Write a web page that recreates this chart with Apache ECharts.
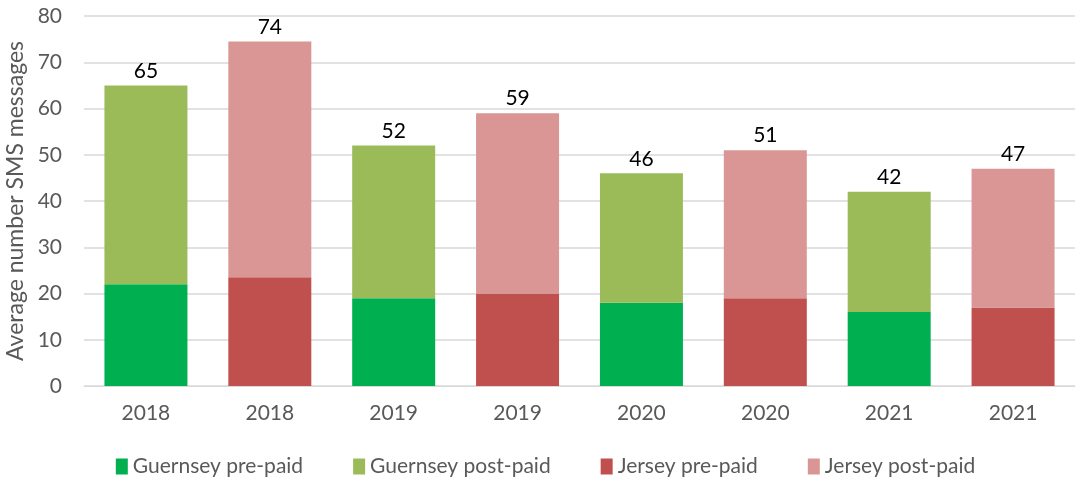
<!DOCTYPE html>
<html>
<head>
<meta charset="utf-8" />
<script src="https://cdn.jsdelivr.net/npm/echarts@6/dist/echarts.min.js"></script>
<style>
  html, body { margin: 0; padding: 0; background: #fff; }
  #main { width: 1091px; height: 482px; }
</style>
</head>
<body>
<div id="main"></div>
<script type="text/javascript">
// 数据
var years = ['2018', '2018', '2019', '2019', '2020', '2020', '2021', '2021'];
var guernseyPre  = [22, '-', 19, '-', 18, '-', 16, '-'];
var guernseyPost = [43, '-', 33, '-', 28, '-', 26, '-'];
var jerseyPre    = ['-', 23.5, '-', 20, '-', 19, '-', 17];
var jerseyPost   = ['-', 51, '-', 39, '-', 32, '-', 30];
var totals       = [65, 74, 52, 59, 46, 51, 42, 47];
var yTicks = { min: 0, max: 80, interval: 10 };

var font = 'Lato, "Open Sans", sans-serif';

function totalLabel(p) {
    return totals[p.dataIndex];
}

var chart = echarts.init(document.getElementById('main'));

var option = {
    animation: false,
    textStyle: { fontFamily: font },
    grid: { left: 84, right: 16, top: 16, bottom: 96, outerBoundsMode: 'none' },
    legend: {
        bottom: 0,
        left: 'center',
        itemWidth: 12,
        itemHeight: 16,
        itemGap: 50,
        icon: 'rect',
        textStyle: { fontSize: 21, color: '#595959', fontFamily: font }
    },
    xAxis: {
        type: 'category',
        data: years,
        axisTick: { show: false },
        axisLine: { lineStyle: { color: '#d9d9d9', width: 1 } },
        axisLabel: { fontSize: 21, color: '#595959', margin: 17 }
    },
    yAxis: {
        type: 'value',
        min: yTicks.min,
        max: yTicks.max,
        interval: yTicks.interval,
        name: 'Average number SMS messages',
        nameLocation: 'middle',
        nameGap: 56,
        nameTextStyle: { fontSize: 23, color: '#595959' },
        axisLabel: { fontSize: 21, color: '#595959', margin: 22 },
        splitLine: { lineStyle: { color: '#d9d9d9', width: 1.5 } }
    },
    series: [
        {
            name: 'Guernsey pre-paid', type: 'bar', stack: 'a',
            barWidth: '67%',
            itemStyle: { color: '#00b050' },
            data: guernseyPre
        },
        {
            name: 'Guernsey post-paid', type: 'bar', stack: 'a',
            itemStyle: { color: '#9bbb59' },
            label: { show: true, position: 'top', fontSize: 21, color: '#000', formatter: totalLabel, distance: 4 },
            data: guernseyPost
        },
        {
            name: 'Jersey pre-paid', type: 'bar', stack: 'a',
            itemStyle: { color: '#c0504d' },
            data: jerseyPre
        },
        {
            name: 'Jersey post-paid', type: 'bar', stack: 'a',
            itemStyle: { color: '#d99694' },
            label: { show: true, position: 'top', fontSize: 21, color: '#000', formatter: totalLabel, distance: 4 },
            data: jerseyPost
        }
    ]
};

chart.setOption(option);
</script>
</body>
</html>
